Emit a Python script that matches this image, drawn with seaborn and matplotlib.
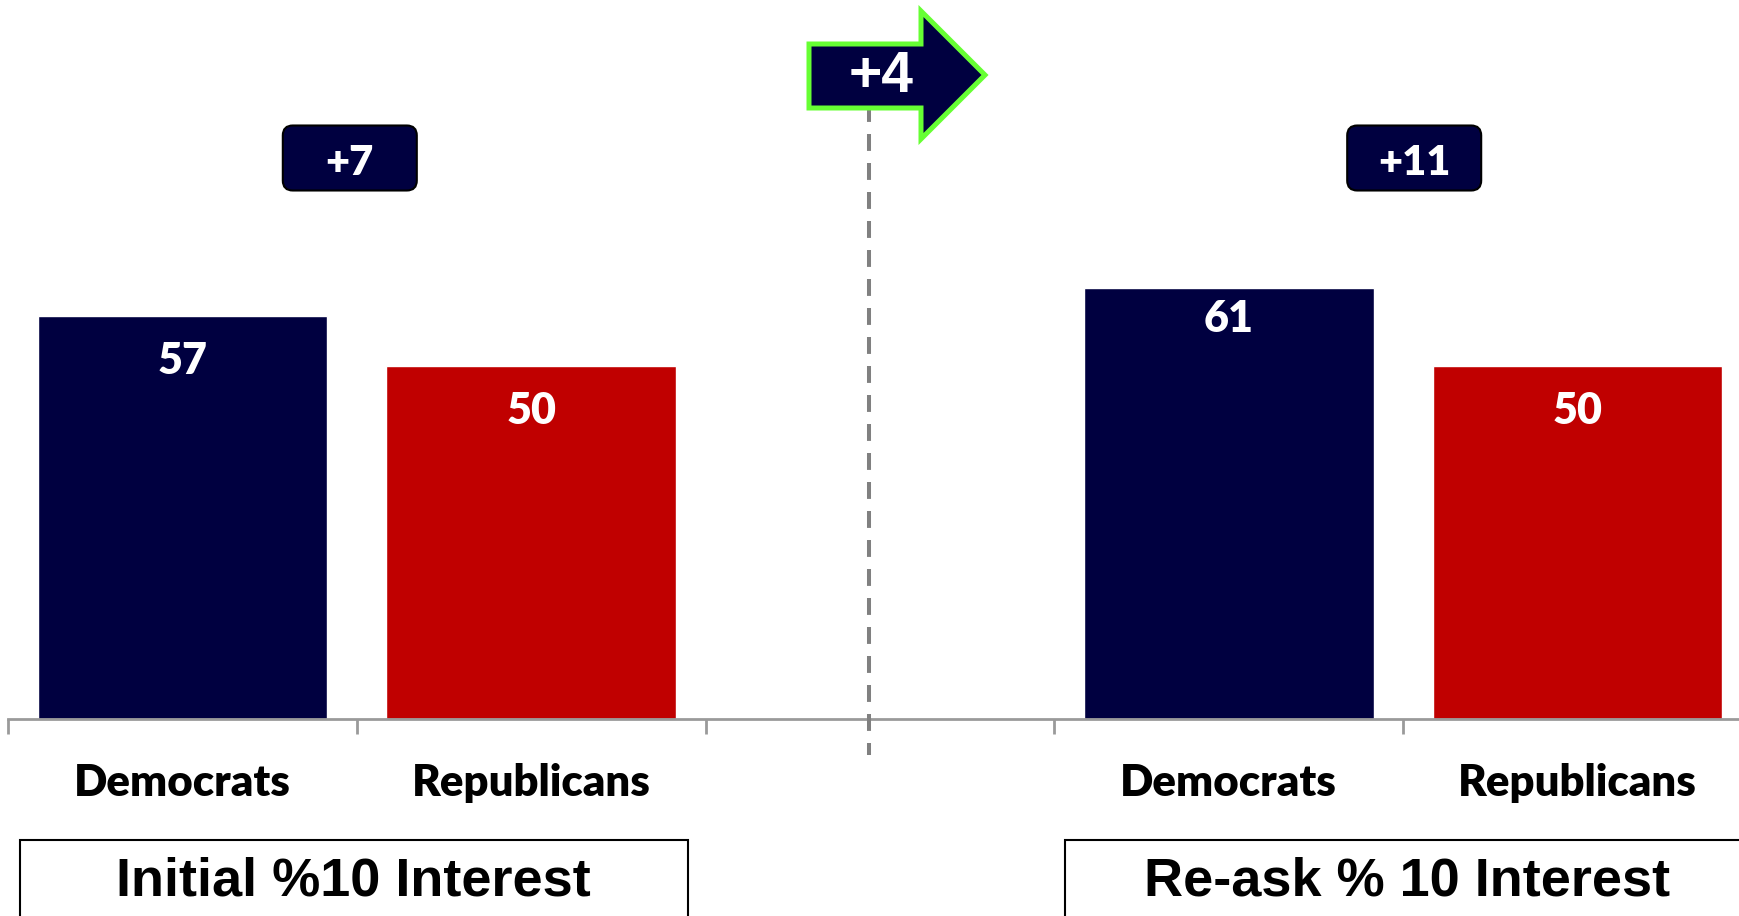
import matplotlib.pyplot as plt
import seaborn as sns
import pandas as pd
from matplotlib.patches import FancyBboxPatch, Polygon, Rectangle
from matplotlib.lines import Line2D

# data
groups = ['Initial %10 Interest', 'Re-ask % 10 Interest']
parties = ['Democrats', 'Republicans']
initial = [57, 50]
reask = [61, 50]
gaps = ['+7', '+11']
shift = '+4'

NAVY = '#000040'
RED = '#c00000'
GREEN = '#66ff33'
GRAY = '#9a9a9a'
W, H, DPI = 1740, 916, 100
BASE = 719          # pixel row of the baseline
PX_PER_UNIT = 7.07

sns.set_style('white')
plt.rcParams['font.family'] = ['Lato', 'DejaVu Sans']

slots = [f'{g}|{p}' for g in groups for p in parties]
order = slots[:2] + ['gap'] + slots[2:]
df = pd.DataFrame({'slot': slots, 'party': parties * 2, 'value': initial + reask})

fig = plt.figure(figsize=(W / DPI, H / DPI), dpi=DPI)
ax = fig.add_axes([8 / W, 1 - BASE / H, 1744 / W, BASE / H])
sns.barplot(data=df, x='slot', y='value', hue='party', order=order,
            palette={'Democrats': NAVY, 'Republicans': RED}, dodge=False,
            width=0.83, saturation=1, legend=False, ax=ax)
ax.set_xlim(-0.5, 4.5)
ax.set_ylim(0, BASE / PX_PER_UNIT)
ax.set_xlabel('')
ax.set_ylabel('')
ax.set_yticks([])
for s in ['left', 'top', 'right']:
    ax.spines[s].set_visible(False)
ax.spines['bottom'].set_color(GRAY)
ax.spines['bottom'].set_linewidth(2)

ax.set_xticks(range(len(order)))
ax.set_xticklabels([s.split('|')[1] if '|' in s else '' for s in order],
                   fontsize=31.5, fontweight='heavy', color='black')
ax.set_xticks([i - 0.5 for i in range(len(order) + 1)], minor=True)
ax.tick_params(axis='x', which='major', length=0, pad=32)
ax.tick_params(axis='x', which='minor', bottom=True, length=11, width=2,
               color=GRAY)

# value labels inside bars
drops = {57: 45, 61: 31, 50: 45}
for slot, v in zip(df['slot'], df['value']):
    ax.annotate(str(v), (order.index(slot), v), xytext=(0, -drops[v]),
                textcoords='offset pixels', ha='center', va='center',
                color='white', fontsize=31, fontweight='heavy')

T = fig.dpi_scale_trans


def px(x, y):
    return (x / DPI, (H - y) / DPI)


# gap badges
nudge = [-7, 11]
for i, g in enumerate(gaps):
    cx = ax.transData.transform((0.5 + 3 * i, 0))[0] + nudge[i]
    bw, bh = 134, 65
    badge = FancyBboxPatch(px(cx - bw / 2, 158 + bh / 2), bw / DPI, bh / DPI,
                           boxstyle='round,pad=0,rounding_size=0.1',
                           fc=NAVY, ec='black', lw=1.5, transform=T)
    fig.add_artist(badge)
    fig.text(cx / W, 1 - 163 / H, g, ha='center', va='center', color='white',
             fontsize=30, fontweight='heavy')

# dashed divider
fig.add_artist(Line2D([869 / DPI] * 2, [px(0, 105)[1], px(0, 755)[1]],
                      transform=T, color='#808080', lw=2.9,
                      dashes=(4.2, 3.0), dash_capstyle='butt', zorder=1))

# shift arrow
arrow_pts = [(809, 44), (921, 44), (921, 11), (985, 75), (921, 139),
             (921, 108), (809, 108)]
fig.add_artist(Polygon([px(x, y) for x, y in arrow_pts], closed=True,
                       fc=NAVY, ec=GREEN, lw=3.6, transform=T, zorder=5))
fig.text(881 / W, 1 - 77 / H, shift, ha='center', va='center', color='white',
         fontsize=41, fontweight='bold', family=['Liberation Sans', 'DejaVu Sans'],
         zorder=6)

# group name boxes
for (x0, x1, cx), g in zip([(20, 688, 353), (1065, 1760, 1407)], groups):
    fig.add_artist(Rectangle(px(x0, 930), (x1 - x0) / DPI, 90 / DPI,
                             fc='white', ec='black', lw=1.5, transform=T))
    fig.text(cx / W, 1 - 881 / H, g, ha='center', va='center', color='black',
             fontsize=39, fontweight='bold',
             family=['Liberation Sans', 'DejaVu Sans'])

fig.savefig('out.png', dpi=DPI)
